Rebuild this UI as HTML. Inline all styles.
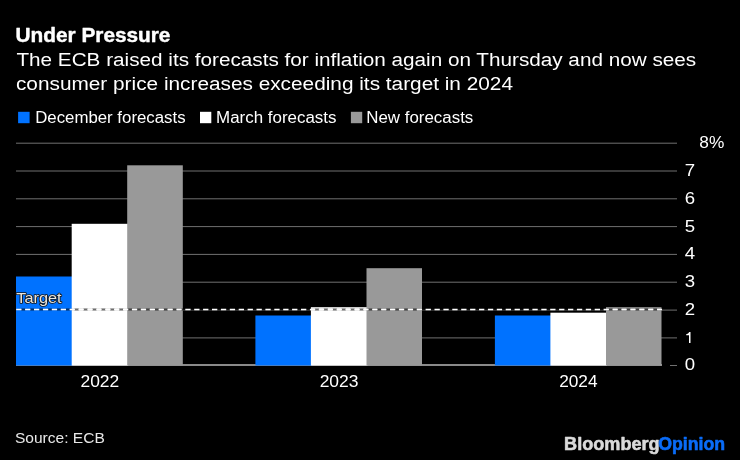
<!DOCTYPE html>
<html><head><meta charset="utf-8">
<style>
html,body{margin:0;padding:0;background:#000;width:740px;height:460px;overflow:hidden}
svg{display:block;will-change:transform}
text{font-family:"Liberation Sans",sans-serif;opacity:0.999}
</style></head>
<body>
<svg width="740" height="460" viewBox="0 0 740 460">
<rect x="0" y="0" width="740" height="460" fill="#000"/>
<g stroke="#707070" stroke-width="1">
<line x1="16" x2="677" y1="143.2" y2="143.2"/>
<line x1="16" x2="677" y1="171" y2="171"/>
<line x1="16" x2="677" y1="198.8" y2="198.8"/>
<line x1="16" x2="677" y1="226.6" y2="226.6"/>
<line x1="16" x2="677" y1="254.4" y2="254.4"/>
<line x1="16" x2="677" y1="282.2" y2="282.2"/>
<line x1="16" x2="677" y1="310.1" y2="310.1"/>
<line x1="16" x2="677" y1="337.9" y2="337.9"/>
<line x1="670" x2="677" y1="365.5" y2="365.5"/>
</g>
<rect x="16" y="364" width="646" height="2" fill="#8a8a8a"/>
<rect x="16" y="276.5" width="56.7" height="89.0" fill="#0072ff"/>
<rect x="71.7" y="223.8" width="56.5" height="141.7" fill="#fff"/>
<rect x="127.2" y="165.3" width="55.6" height="200.2" fill="#999"/>
<rect x="255.4" y="315.5" width="56.5" height="50.0" fill="#0072ff"/>
<rect x="310.9" y="307.2" width="56.6" height="58.3" fill="#fff"/>
<rect x="366.5" y="268.2" width="55.5" height="97.3" fill="#999"/>
<rect x="494.9" y="315.5" width="56.5" height="50.0" fill="#0072ff"/>
<rect x="550.4" y="312.7" width="56.6" height="52.8" fill="#fff"/>
<rect x="606" y="307.2" width="55.5" height="58.3" fill="#999"/>
<rect x="18.1" y="111.8" width="11.5" height="11.4" fill="#0072ff"/>
<rect x="200" y="111.8" width="11.3" height="11.4" fill="#fff"/>
<rect x="350.9" y="111.8" width="11.3" height="11.4" fill="#999"/>

<text x="15.60" y="42.1" font-size="21" font-weight="bold" fill="#fff" textLength="154.84" lengthAdjust="spacingAndGlyphs" stroke="#fff" stroke-width="0.45" stroke-linejoin="round">Under Pressure</text>
<text x="16.41" y="66.4" font-size="19.2" font-weight="normal" fill="#fff" textLength="679.73" lengthAdjust="spacingAndGlyphs">The ECB raised its forecasts for inflation again on Thursday and now sees</text>
<text x="15.98" y="90.4" font-size="19.2" font-weight="normal" fill="#fff" textLength="497.01" lengthAdjust="spacingAndGlyphs">consumer price increases exceeding its target in 2024</text>
<text x="35.18" y="123" font-size="15.6" font-weight="normal" fill="#fff" textLength="150.39" lengthAdjust="spacingAndGlyphs">December forecasts</text>
<text x="216.03" y="123" font-size="15.6" font-weight="normal" fill="#fff" textLength="120.52" lengthAdjust="spacingAndGlyphs">March forecasts</text>
<text x="366.27" y="123" font-size="15.6" font-weight="normal" fill="#fff" textLength="107.02" lengthAdjust="spacingAndGlyphs">New forecasts</text>
<text x="699.27" y="148.3" font-size="15.7" font-weight="normal" fill="#fff" textLength="24.99" lengthAdjust="spacingAndGlyphs">8%</text>
<text x="684.77" y="370.4" font-size="15.7" font-weight="normal" fill="#fff" textLength="10.36" lengthAdjust="spacingAndGlyphs">0</text>
<path d="M689.0 343.1 L689.0 335.2 L686.2 335.2 L686.2 334.2 Q688.6 333.9 689.2 332.1 L690.5 332.1 L690.5 343.1 Z" fill="#fff"/>
<text x="684.77" y="314.9" font-size="15.7" font-weight="normal" fill="#fff" textLength="10.36" lengthAdjust="spacingAndGlyphs">2</text>
<text x="684.77" y="287.15" font-size="15.7" font-weight="normal" fill="#fff" textLength="10.36" lengthAdjust="spacingAndGlyphs">3</text>
<text x="684.77" y="259.4" font-size="15.7" font-weight="normal" fill="#fff" textLength="10.36" lengthAdjust="spacingAndGlyphs">4</text>
<text x="684.77" y="231.65" font-size="15.7" font-weight="normal" fill="#fff" textLength="10.36" lengthAdjust="spacingAndGlyphs">5</text>
<text x="684.77" y="203.9" font-size="15.7" font-weight="normal" fill="#fff" textLength="10.36" lengthAdjust="spacingAndGlyphs">6</text>
<text x="684.77" y="176.15" font-size="15.7" font-weight="normal" fill="#fff" textLength="10.36" lengthAdjust="spacingAndGlyphs">7</text>
<text x="80.46" y="386.7" font-size="15.8" font-weight="normal" fill="#fff" textLength="38.81" lengthAdjust="spacingAndGlyphs">2022</text>
<text x="319.67" y="386.7" font-size="15.8" font-weight="normal" fill="#fff" textLength="38.85" lengthAdjust="spacingAndGlyphs">2023</text>
<text x="559.20" y="386.7" font-size="15.8" font-weight="normal" fill="#fff" textLength="38.38" lengthAdjust="spacingAndGlyphs">2024</text>
<text x="14.93" y="442.8" font-size="15" font-weight="normal" fill="#e8e8e8" textLength="89.91" lengthAdjust="spacingAndGlyphs">Source: ECB</text>
<text x="564.10" y="449.8" font-size="18.3" font-weight="bold" fill="#dadada" textLength="95.60" lengthAdjust="spacingAndGlyphs" stroke="#dadada" stroke-width="0.6" stroke-linejoin="round">Bloomberg</text>
<text x="658.23" y="449.8" font-size="18.3" font-weight="bold" fill="#0a6cf8" textLength="66.87" lengthAdjust="spacingAndGlyphs" stroke="#0a6cf8" stroke-width="0.6" stroke-linejoin="round">Opinion</text>
<line x1="21.1" x2="662" y1="309.5" y2="309.5" stroke="#000" stroke-opacity="0.5" stroke-width="2.2" stroke-dasharray="4.3 4.6"/>
<line x1="16" x2="662" y1="309.5" y2="309.5" stroke="#000" stroke-opacity="0.12" stroke-width="2.6"/>
<line x1="16.2" x2="662" y1="309.5" y2="309.5" stroke="#fff" stroke-width="1.7" stroke-dasharray="5.3 3.6"/>

<text x="16.39" y="302.5" font-size="14.6" font-weight="normal" fill="#e8e6e0" textLength="45.28" lengthAdjust="spacingAndGlyphs" stroke="#141414" stroke-width="1.6" stroke-linejoin="round" paint-order="stroke">Target</text>
</svg>
</body></html>
